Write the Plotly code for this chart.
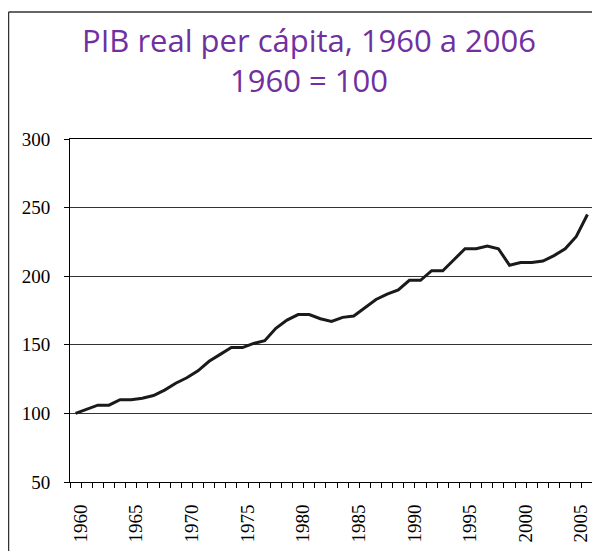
import plotly.graph_objects as go

years = list(range(1960, 2007))
pib = [100, 103, 106, 106, 110, 110, 111, 113, 117, 122,
       126, 131, 138, 143, 148, 148, 151, 153, 162, 168,
       172, 172, 169, 167, 170, 171, 177, 183, 187, 190,
       197, 197, 204, 204, 212, 220, 220, 222, 220, 208,
       210, 210, 211, 215, 220, 229, 245]
xtick_vals = [1960, 1965, 1970, 1975, 1980, 1985, 1990, 1995, 2000, 2005]
ytick_vals = [50, 100, 150, 200, 250, 300]
title1 = "PIB real per cápita, 1960 a 2006"
title2 = "1960 = 100"

# figure geometry (page body has an 8px margin)
W, H = 592, 543
L, R, T, B = 62, 7, 131, 69
PW, PH = W - L - R, H - T - B


def px(xf):
    return (xf - L) / PW


def py(yf):
    return (H - B - yf) / PH


fig = go.Figure()
fig.add_trace(go.Scatter(x=years, y=pib, mode="lines",
                         line=dict(color="#1a1a1a", width=3), showlegend=False,
                         hoverinfo="x+y"))

serif = "Liberation Serif, Times New Roman, serif"
tfont = dict(family="Open Sans, Lato, sans-serif", size=31, color="#7030A0")
fig.update_layout(
    width=W, height=H,
    margin=dict(l=L, r=R, t=T, b=B),
    paper_bgcolor="white", plot_bgcolor="white",
    xaxis=dict(range=[1959.5, 2006.5], tickmode="array", tickvals=xtick_vals,
               ticktext=[str(v) for v in xtick_vals], tickangle=-90,
               ticks="", showgrid=False, zeroline=False,
               showline=True, linecolor="black", linewidth=1, mirror=True,
               tickfont=dict(family=serif, size=19, color="black"),
               ticklabelstandoff=14, ticklabelshift=5,
               minor=dict(tickmode="linear", tick0=1959.5, dtick=1,
                          ticks="outside", ticklen=5, tickcolor="black",
                          tickwidth=1, showgrid=False)),
    yaxis=dict(range=[50, 300], tickmode="array", tickvals=ytick_vals,
               ticks="outside", ticklen=5, tickcolor="black",
               showgrid=True, gridcolor="#333333", gridwidth=1, zeroline=False,
               showline=True, linecolor="black", linewidth=1, mirror=True,
               tickfont=dict(family=serif, size=19, color="black"),
               ticklabelstandoff=10),
    annotations=[
        dict(text=title1 + "<br>" + title2, xref="paper", yref="paper",
             x=px(300.5), y=py(52), xanchor="center", yanchor="middle",
             align="center", showarrow=False, font=tfont),
    ],
    shapes=[
        dict(type="line", xref="paper", yref="paper",
             x0=px(0.5), x1=px(0.5), y0=py(H + 5), y1=py(4),
             line=dict(color="#333333", width=1.5)),
        dict(type="line", xref="paper", yref="paper",
             x0=px(0.5), x1=px(W + 5), y0=py(4), y1=py(4),
             line=dict(color="#333333", width=1.5)),
    ],
)

fig.write_html("out.html")
